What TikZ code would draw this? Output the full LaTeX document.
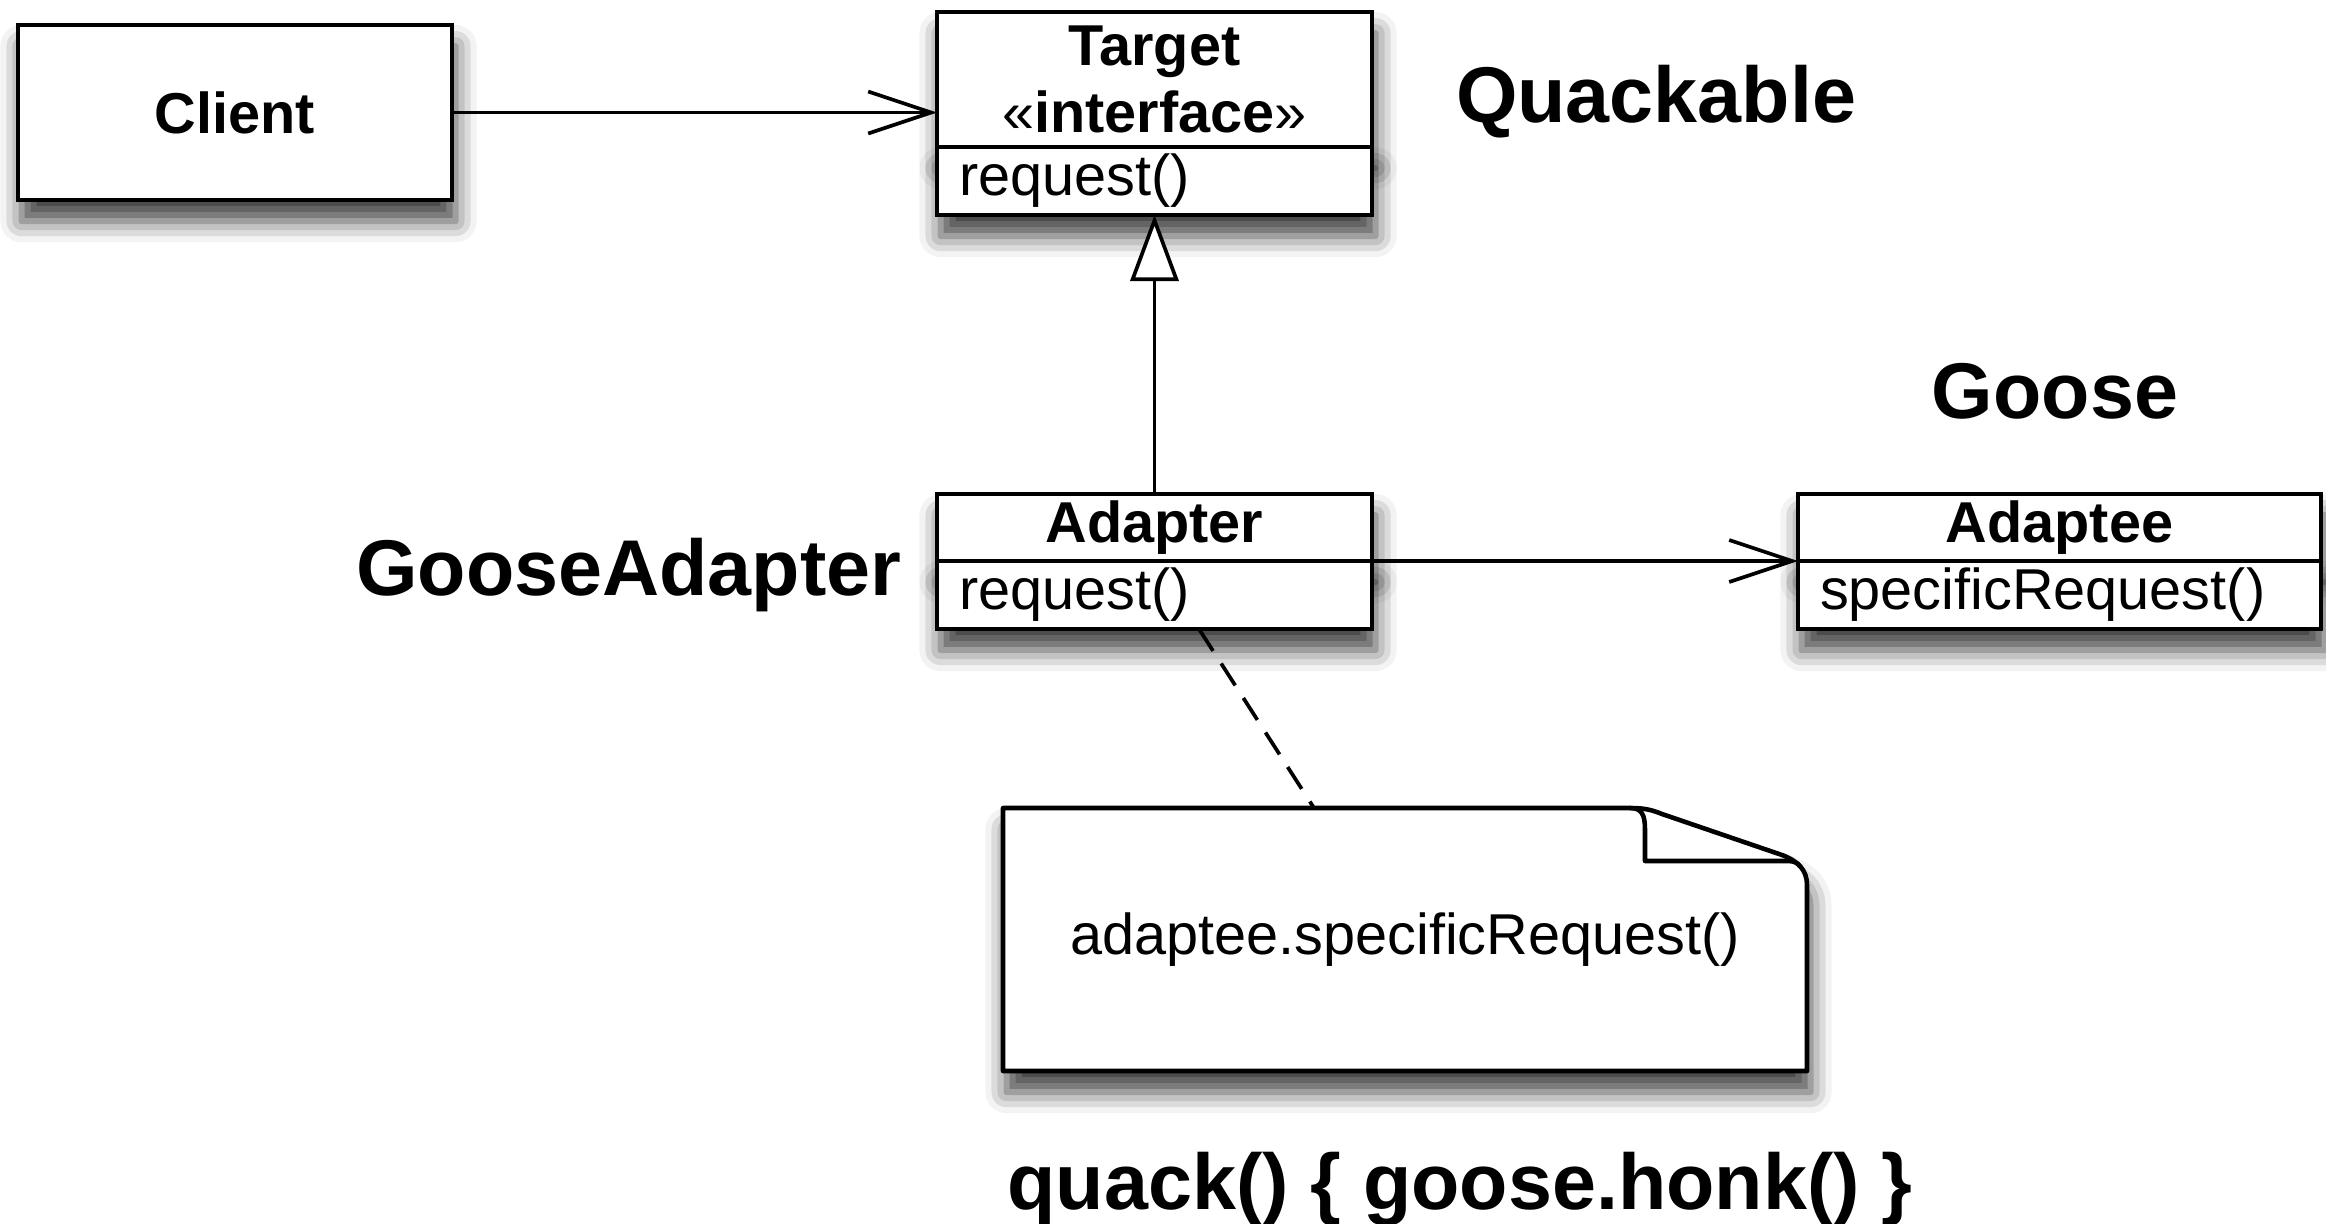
\documentclass[tikz,border=0pt]{standalone}
\usepackage{fontspec}
\setmainfont{Liberation Sans}
\usetikzlibrary{positioning,arrows.meta,shadows.blur}

\tikzset{
  box/.style={draw, fill=white, line width=1.3pt, outer sep=0pt,
    blur shadow={shadow xshift=1pt, shadow yshift=-6pt, shadow blur radius=6pt, shadow opacity=75}},
  classhead/.style={box, minimum width=4.35cm, inner sep=0pt, align=center,
    font=\bfseries\fontsize{16.4pt}{19pt}\selectfont},
  classops/.style={box, text width=3.91cm, inner xsep=0.22cm, inner ysep=0pt, minimum height=0.68cm,
    align=left, font=\fontsize{16.4pt}{19pt}\selectfont},
  biglabel/.style={inner sep=0pt, font=\bfseries\fontsize{22.5pt}{27pt}\selectfont},
  assoc/.style={line width=1.05pt, -{Straight Barb[length=0.63cm, width=0.42cm]}},
  realize/.style={line width=1.05pt, -{Triangle[length=0.66cm, width=0.48cm, fill=white]}},
  noteline/.style={line width=1.3pt, line join=round},
  dashline/.style={line width=1.05pt, dash pattern=on 0.26cm off 0.15cm}
}

\begin{document}
\begin{tikzpicture}
\useasboundingbox (0,0) rectangle (23.26,-12.23);

\node[classhead, minimum width=4.34cm, minimum height=1.75cm] (client) at (2.35,-1.125) {Client};
\node[classhead, minimum height=1.35cm] (target) at (11.545,-0.795) {Target\\\textmd{«}interface\textmd{»}};
\node[classops, below=0pt of target] (targetops) {request()};
\node[classhead, minimum height=0.67cm, below=2.79cm of targetops] (adapter) {Adapter};
\node[classops, below=0pt of adapter] (adapterops) {request()};
\node[classhead, minimum width=5.23cm, minimum height=0.67cm, right=4.26cm of adapter] (adaptee) {Adaptee};
\node[classops, text width=4.79cm, below=0pt of adaptee] (adapteeops) {specificRequest()};

\filldraw[noteline, fill=white, blur shadow={shadow xshift=1pt, shadow yshift=-6pt, shadow blur radius=6pt, shadow opacity=75}]
  (10.03,-8.08) -- (16.30,-8.08) .. controls (16.45,-8.08) and (16.52,-8.10) .. (16.62,-8.14)
  -- (17.82,-8.55) .. controls (17.98,-8.61) and (18.07,-8.70) .. (18.07,-8.85)
  -- (18.07,-10.71) -- (10.03,-10.71) -- cycle;
\draw[noteline] (16.30,-8.08) .. controls (16.42,-8.08) and (16.45,-8.15) .. (16.45,-8.30)
  -- (16.45,-8.61) -- (17.88,-8.61) .. controls (17.94,-8.61) and (17.98,-8.63) .. (18.0,-8.665);
\node[minimum width=8.04cm, minimum height=2.63cm, outer sep=0pt, font=\fontsize{16.4pt}{19pt}\selectfont] (note) at (14.05,-9.395) {adaptee.specificRequest()};

\foreach \n/\x/\l/\a in{
quackable/{(16.56,-1.22)}/{Quackable}/base,
goose/{(20.55,-4.18)}/{Goose}/base,
gooseadapter/{(9.02,-5.95)}/{GooseAdapter}/base east,
quack/{(14.60,-12.09)}/{quack() \{ goose.honk() \}}/base}
{
        \node[biglabel, anchor=\a] (\n) at \x {\l};
    }

\draw[assoc] (client) -- (client -| target.west);
\draw[realize] (adapter) -- (targetops);
\draw[assoc] (adapter.south east) -- (adaptee.south west);
\draw[dashline] ([xshift=2.62cm]adapterops.south west) -- ([xshift=3.11cm]note.north west);
\end{tikzpicture}
\end{document}
